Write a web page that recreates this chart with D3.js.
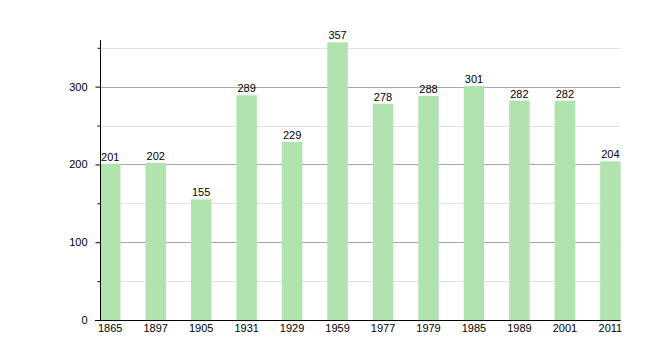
<!DOCTYPE html>
<html>
<head>
<meta charset="utf-8">
<script src="https://d3js.org/d3.v7.min.js"></script>
<style>
  body { margin: 0; background: #fff; }
  svg text { font-family: "Liberation Sans", Arial, sans-serif; font-size: 11px; fill: #000; }
</style>
</head>
<body>
<svg id="chart" width="660" height="360"></svg>
<script>
var years = ['1865', '1897', '1905', '1931', '1929', '1959', '1977', '1979', '1985', '1989', '2001', '2011'];
var population = [201, 202, 155, 289, 229, 357, 278, 288, 301, 282, 282, 204];
var majorTicks = [0, 100, 200, 300];
var minorTicks = [50, 150, 250, 350];

var svg = d3.select('#chart');

var x = d3.scaleBand()
  .domain(years)
  .range([100, 620.6])
  .paddingInner(0.55)
  .paddingOuter(0);

var y = d3.scaleLinear()
  .domain([0, 360])
  .range([320, 40]);

// grid lines
svg.append('g').selectAll('line.minor')
  .data(minorTicks)
  .enter().append('line')
  .attr('x1', 100).attr('x2', 620.6)
  .attr('y1', function (d) { return Math.round(y(d)) + 0.5; })
  .attr('y2', function (d) { return Math.round(y(d)) + 0.5; })
  .attr('stroke', '#e2e2e2');

svg.append('g').selectAll('line.major')
  .data(majorTicks.slice(1))
  .enter().append('line')
  .attr('x1', 100).attr('x2', 620.6)
  .attr('y1', function (d) { return Math.round(y(d)) + 0.5; })
  .attr('y2', function (d) { return Math.round(y(d)) + 0.5; })
  .attr('stroke', '#a8a8a8');

// bars
svg.append('g').selectAll('rect')
  .data(population)
  .enter().append('rect')
  .attr('x', function (d, i) { return x(years[i]); })
  .attr('y', function (d) { return y(d); })
  .attr('width', x.bandwidth())
  .attr('height', function (d) { return y(0) - y(d); })
  .attr('fill', '#b1e3ae');

// value labels
svg.append('g').selectAll('text')
  .data(population)
  .enter().append('text')
  .attr('x', function (d, i) { return x(years[i]) + x.bandwidth() / 2; })
  .attr('y', function (d) { return y(d) - 3; })
  .attr('text-anchor', 'middle')
  .text(function (d) { return d; });

// y axis
var yAxis = svg.append('g')
  .attr('transform', 'translate(100.5,0)')
  .call(d3.axisLeft(y).tickValues(majorTicks).tickSize(5).tickPadding(8));
yAxis.select('.domain').attr('d', 'M0,40V320');

svg.append('g')
  .attr('transform', 'translate(100.5,0)')
  .call(d3.axisLeft(y).tickValues(minorTicks).tickSize(3).tickFormat(''))
  .select('.domain').remove();

// x axis
var xAxis = svg.append('g')
  .attr('transform', 'translate(0,320.5)')
  .call(d3.axisBottom(x).tickSize(0).tickPadding(4));
xAxis.select('.domain').attr('d', 'M95,0H620.6');

svg.selectAll('.tick text')
  .style('font-family', '"Liberation Sans", Arial, sans-serif')
  .style('font-size', '11px')
  .attr('fill', '#000');
svg.selectAll('.domain, .tick line').attr('stroke', '#000');
</script>
</body>
</html>
